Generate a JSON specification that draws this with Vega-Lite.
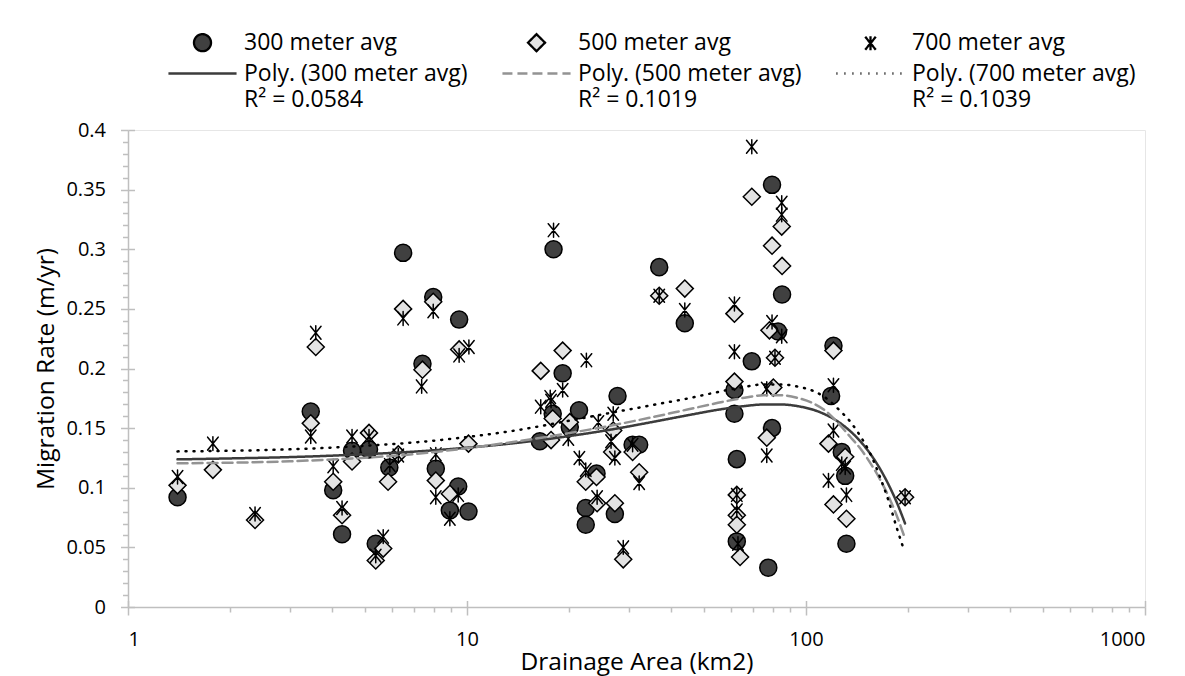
{
  "$schema": "https://vega.github.io/schema/vega-lite/v6.json",
  "width": 1017,
  "height": 477,
  "autosize": {"type": "none"},
  "padding": {"left": 128, "top": 130, "right": 40, "bottom": 69},
  "background": "white",
  "config": {
    "font": "Open Sans",
    "view": {"stroke": "#e6e6e6", "strokeWidth": 1},
    "style": {"guide-label": {"lineHeight": 26}},
    "axis": {
      "grid": false,
      "domainColor": "#bfbfbf",
      "domainWidth": 1.5,
      "tickColor": "#bfbfbf",
      "tickWidth": 1.5,
      "labelColor": "#000000",
      "titleColor": "#000000",
      "labelFont": "Open Sans",
      "titleFont": "Open Sans",
      "labelFontSize": 20,
      "titleFontSize": 24.5,
      "titleFontWeight": "normal"
    },
    "legend": {
      "labelFont": "Open Sans",
      "labelFontSize": 23,
      "labelColor": "#000000",
      "labelLimit": 600,
      "symbolSize": 290,
      "symbolStrokeWidth": 2.3,
      "padding": 0
    }
  },
  "datasets": {
    "points": [
      {"series": "300 meter avg", "area": 1.4, "rate": 0.092},
      {"series": "300 meter avg", "area": 3.46, "rate": 0.164},
      {"series": "300 meter avg", "area": 4.03, "rate": 0.098},
      {"series": "300 meter avg", "area": 4.28, "rate": 0.061},
      {"series": "300 meter avg", "area": 4.58, "rate": 0.131},
      {"series": "300 meter avg", "area": 5.14, "rate": 0.132},
      {"series": "300 meter avg", "area": 5.38, "rate": 0.053},
      {"series": "300 meter avg", "area": 5.9, "rate": 0.117},
      {"series": "300 meter avg", "area": 6.48, "rate": 0.297},
      {"series": "300 meter avg", "area": 7.39, "rate": 0.204},
      {"series": "300 meter avg", "area": 7.95, "rate": 0.26},
      {"series": "300 meter avg", "area": 8.09, "rate": 0.116},
      {"series": "300 meter avg", "area": 8.9, "rate": 0.081},
      {"series": "300 meter avg", "area": 9.42, "rate": 0.101},
      {"series": "300 meter avg", "area": 9.48, "rate": 0.241},
      {"series": "300 meter avg", "area": 10.1, "rate": 0.08},
      {"series": "300 meter avg", "area": 16.4, "rate": 0.139},
      {"series": "300 meter avg", "area": 17.9, "rate": 0.162},
      {"series": "300 meter avg", "area": 18.0, "rate": 0.3},
      {"series": "300 meter avg", "area": 19.15, "rate": 0.196},
      {"series": "300 meter avg", "area": 20.1, "rate": 0.151},
      {"series": "300 meter avg", "area": 21.4, "rate": 0.165},
      {"series": "300 meter avg", "area": 22.4, "rate": 0.083},
      {"series": "300 meter avg", "area": 22.4, "rate": 0.069},
      {"series": "300 meter avg", "area": 24.1, "rate": 0.112},
      {"series": "300 meter avg", "area": 27.3, "rate": 0.078},
      {"series": "300 meter avg", "area": 27.8, "rate": 0.177},
      {"series": "300 meter avg", "area": 30.8, "rate": 0.136},
      {"series": "300 meter avg", "area": 32.2, "rate": 0.136},
      {"series": "300 meter avg", "area": 36.9, "rate": 0.285},
      {"series": "300 meter avg", "area": 43.9, "rate": 0.238},
      {"series": "300 meter avg", "area": 61.5, "rate": 0.182},
      {"series": "300 meter avg", "area": 61.5, "rate": 0.162},
      {"series": "300 meter avg", "area": 62.5, "rate": 0.124},
      {"series": "300 meter avg", "area": 62.5, "rate": 0.055},
      {"series": "300 meter avg", "area": 69.2, "rate": 0.206},
      {"series": "300 meter avg", "area": 77.4, "rate": 0.033},
      {"series": "300 meter avg", "area": 79.4, "rate": 0.354},
      {"series": "300 meter avg", "area": 79.4, "rate": 0.15},
      {"series": "300 meter avg", "area": 82.7, "rate": 0.231},
      {"series": "300 meter avg", "area": 85.0, "rate": 0.262},
      {"series": "300 meter avg", "area": 118.6, "rate": 0.177},
      {"series": "300 meter avg", "area": 120.5, "rate": 0.219},
      {"series": "300 meter avg", "area": 127.5, "rate": 0.13},
      {"series": "300 meter avg", "area": 130.5, "rate": 0.11},
      {"series": "300 meter avg", "area": 131.6, "rate": 0.053},
      {"series": "500 meter avg", "area": 1.4, "rate": 0.102},
      {"series": "500 meter avg", "area": 1.78, "rate": 0.115},
      {"series": "500 meter avg", "area": 2.37, "rate": 0.073},
      {"series": "500 meter avg", "area": 3.46, "rate": 0.154},
      {"series": "500 meter avg", "area": 3.58, "rate": 0.218},
      {"series": "500 meter avg", "area": 4.03, "rate": 0.105},
      {"series": "500 meter avg", "area": 4.28, "rate": 0.077},
      {"series": "500 meter avg", "area": 4.58, "rate": 0.122},
      {"series": "500 meter avg", "area": 5.14, "rate": 0.146},
      {"series": "500 meter avg", "area": 5.38, "rate": 0.039},
      {"series": "500 meter avg", "area": 5.66, "rate": 0.049},
      {"series": "500 meter avg", "area": 5.85, "rate": 0.105},
      {"series": "500 meter avg", "area": 6.27, "rate": 0.128},
      {"series": "500 meter avg", "area": 6.48, "rate": 0.25},
      {"series": "500 meter avg", "area": 7.39, "rate": 0.199},
      {"series": "500 meter avg", "area": 7.95, "rate": 0.256},
      {"series": "500 meter avg", "area": 8.09, "rate": 0.106},
      {"series": "500 meter avg", "area": 8.9, "rate": 0.095},
      {"series": "500 meter avg", "area": 9.48, "rate": 0.216},
      {"series": "500 meter avg", "area": 10.1, "rate": 0.137},
      {"series": "500 meter avg", "area": 16.5, "rate": 0.198},
      {"series": "500 meter avg", "area": 17.7, "rate": 0.14},
      {"series": "500 meter avg", "area": 17.9, "rate": 0.158},
      {"series": "500 meter avg", "area": 19.15, "rate": 0.215},
      {"series": "500 meter avg", "area": 20.1, "rate": 0.155},
      {"series": "500 meter avg", "area": 22.4, "rate": 0.105},
      {"series": "500 meter avg", "area": 24.1, "rate": 0.109},
      {"series": "500 meter avg", "area": 24.2, "rate": 0.087},
      {"series": "500 meter avg", "area": 27.0, "rate": 0.148},
      {"series": "500 meter avg", "area": 26.8, "rate": 0.13},
      {"series": "500 meter avg", "area": 27.3, "rate": 0.087},
      {"series": "500 meter avg", "area": 28.9, "rate": 0.04},
      {"series": "500 meter avg", "area": 30.8, "rate": 0.13},
      {"series": "500 meter avg", "area": 32.2, "rate": 0.113},
      {"series": "500 meter avg", "area": 36.9, "rate": 0.261},
      {"series": "500 meter avg", "area": 43.9, "rate": 0.267},
      {"series": "500 meter avg", "area": 61.5, "rate": 0.246},
      {"series": "500 meter avg", "area": 61.5, "rate": 0.189},
      {"series": "500 meter avg", "area": 62.5, "rate": 0.094},
      {"series": "500 meter avg", "area": 62.5, "rate": 0.077},
      {"series": "500 meter avg", "area": 62.5, "rate": 0.069},
      {"series": "500 meter avg", "area": 63.9, "rate": 0.042},
      {"series": "500 meter avg", "area": 69.2, "rate": 0.344},
      {"series": "500 meter avg", "area": 76.6, "rate": 0.142},
      {"series": "500 meter avg", "area": 78.0, "rate": 0.232},
      {"series": "500 meter avg", "area": 79.4, "rate": 0.303},
      {"series": "500 meter avg", "area": 80.1, "rate": 0.184},
      {"series": "500 meter avg", "area": 81.0, "rate": 0.209},
      {"series": "500 meter avg", "area": 84.8, "rate": 0.319},
      {"series": "500 meter avg", "area": 85.0, "rate": 0.286},
      {"series": "500 meter avg", "area": 116.5, "rate": 0.137},
      {"series": "500 meter avg", "area": 120.5, "rate": 0.215},
      {"series": "500 meter avg", "area": 120.5, "rate": 0.086},
      {"series": "500 meter avg", "area": 130.5, "rate": 0.126},
      {"series": "500 meter avg", "area": 131.6, "rate": 0.074},
      {"series": "500 meter avg", "area": 196, "rate": 0.092},
      {"series": "700 meter avg", "area": 1.4, "rate": 0.109},
      {"series": "700 meter avg", "area": 1.78, "rate": 0.137},
      {"series": "700 meter avg", "area": 2.37, "rate": 0.078},
      {"series": "700 meter avg", "area": 3.46, "rate": 0.143},
      {"series": "700 meter avg", "area": 3.58, "rate": 0.23},
      {"series": "700 meter avg", "area": 4.03, "rate": 0.118},
      {"series": "700 meter avg", "area": 4.28, "rate": 0.083},
      {"series": "700 meter avg", "area": 4.58, "rate": 0.143},
      {"series": "700 meter avg", "area": 5.14, "rate": 0.143},
      {"series": "700 meter avg", "area": 5.38, "rate": 0.043},
      {"series": "700 meter avg", "area": 5.66, "rate": 0.059},
      {"series": "700 meter avg", "area": 5.92, "rate": 0.119},
      {"series": "700 meter avg", "area": 6.27, "rate": 0.127},
      {"series": "700 meter avg", "area": 6.48, "rate": 0.242},
      {"series": "700 meter avg", "area": 7.35, "rate": 0.185},
      {"series": "700 meter avg", "area": 7.95, "rate": 0.248},
      {"series": "700 meter avg", "area": 8.09, "rate": 0.128},
      {"series": "700 meter avg", "area": 8.09, "rate": 0.092},
      {"series": "700 meter avg", "area": 8.9, "rate": 0.074},
      {"series": "700 meter avg", "area": 9.42, "rate": 0.094},
      {"series": "700 meter avg", "area": 9.48, "rate": 0.211},
      {"series": "700 meter avg", "area": 10.13, "rate": 0.218},
      {"series": "700 meter avg", "area": 16.5, "rate": 0.168},
      {"series": "700 meter avg", "area": 17.6, "rate": 0.176},
      {"series": "700 meter avg", "area": 17.7, "rate": 0.173},
      {"series": "700 meter avg", "area": 18.0, "rate": 0.316},
      {"series": "700 meter avg", "area": 19.15, "rate": 0.182},
      {"series": "700 meter avg", "area": 19.9, "rate": 0.141},
      {"series": "700 meter avg", "area": 21.45, "rate": 0.125},
      {"series": "700 meter avg", "area": 22.4, "rate": 0.115},
      {"series": "700 meter avg", "area": 22.5, "rate": 0.207},
      {"series": "700 meter avg", "area": 24.2, "rate": 0.092},
      {"series": "700 meter avg", "area": 24.4, "rate": 0.155},
      {"series": "700 meter avg", "area": 27.0, "rate": 0.162},
      {"series": "700 meter avg", "area": 26.6, "rate": 0.139},
      {"series": "700 meter avg", "area": 27.3, "rate": 0.125},
      {"series": "700 meter avg", "area": 28.9, "rate": 0.05},
      {"series": "700 meter avg", "area": 30.8, "rate": 0.136},
      {"series": "700 meter avg", "area": 32.2, "rate": 0.104},
      {"series": "700 meter avg", "area": 36.9, "rate": 0.261},
      {"series": "700 meter avg", "area": 43.9, "rate": 0.249},
      {"series": "700 meter avg", "area": 61.5, "rate": 0.254},
      {"series": "700 meter avg", "area": 61.5, "rate": 0.214},
      {"series": "700 meter avg", "area": 62.5, "rate": 0.094},
      {"series": "700 meter avg", "area": 62.5, "rate": 0.081},
      {"series": "700 meter avg", "area": 63.0, "rate": 0.053},
      {"series": "700 meter avg", "area": 69.2, "rate": 0.386},
      {"series": "700 meter avg", "area": 76.6, "rate": 0.183},
      {"series": "700 meter avg", "area": 76.6, "rate": 0.127},
      {"series": "700 meter avg", "area": 79.4, "rate": 0.239},
      {"series": "700 meter avg", "area": 81.0, "rate": 0.209},
      {"series": "700 meter avg", "area": 84.8, "rate": 0.339},
      {"series": "700 meter avg", "area": 84.8, "rate": 0.329},
      {"series": "700 meter avg", "area": 84.8, "rate": 0.227},
      {"series": "700 meter avg", "area": 116.5, "rate": 0.106},
      {"series": "700 meter avg", "area": 120.5, "rate": 0.186},
      {"series": "700 meter avg", "area": 120.5, "rate": 0.148},
      {"series": "700 meter avg", "area": 127.5, "rate": 0.12},
      {"series": "700 meter avg", "area": 130.5, "rate": 0.117},
      {"series": "700 meter avg", "area": 131.6, "rate": 0.094},
      {"series": "700 meter avg", "area": 196, "rate": 0.092}
    ],
    "trend": [
      {"series": "Poly. (300 meter avg)", "area": 1.4, "rate": 0.1238},
      {"series": "Poly. (300 meter avg)", "area": 2, "rate": 0.1246},
      {"series": "Poly. (300 meter avg)", "area": 3, "rate": 0.1257},
      {"series": "Poly. (300 meter avg)", "area": 5, "rate": 0.1281},
      {"series": "Poly. (300 meter avg)", "area": 7, "rate": 0.1303},
      {"series": "Poly. (300 meter avg)", "area": 10, "rate": 0.1336},
      {"series": "Poly. (300 meter avg)", "area": 14, "rate": 0.1376},
      {"series": "Poly. (300 meter avg)", "area": 20, "rate": 0.1433},
      {"series": "Poly. (300 meter avg)", "area": 27, "rate": 0.1491},
      {"series": "Poly. (300 meter avg)", "area": 35, "rate": 0.155},
      {"series": "Poly. (300 meter avg)", "area": 45, "rate": 0.1609},
      {"series": "Poly. (300 meter avg)", "area": 55, "rate": 0.1654},
      {"series": "Poly. (300 meter avg)", "area": 65, "rate": 0.1683},
      {"series": "Poly. (300 meter avg)", "area": 75, "rate": 0.1698},
      {"series": "Poly. (300 meter avg)", "area": 85, "rate": 0.1698},
      {"series": "Poly. (300 meter avg)", "area": 95, "rate": 0.1683},
      {"series": "Poly. (300 meter avg)", "area": 105, "rate": 0.1654},
      {"series": "Poly. (300 meter avg)", "area": 115, "rate": 0.1609},
      {"series": "Poly. (300 meter avg)", "area": 125, "rate": 0.155},
      {"series": "Poly. (300 meter avg)", "area": 135, "rate": 0.1475},
      {"series": "Poly. (300 meter avg)", "area": 145, "rate": 0.1386},
      {"series": "Poly. (300 meter avg)", "area": 155, "rate": 0.1282},
      {"series": "Poly. (300 meter avg)", "area": 165, "rate": 0.1163},
      {"series": "Poly. (300 meter avg)", "area": 175, "rate": 0.1029},
      {"series": "Poly. (300 meter avg)", "area": 185, "rate": 0.0881},
      {"series": "Poly. (300 meter avg)", "area": 196, "rate": 0.07},
      {"series": "Poly. (500 meter avg)", "area": 1.4, "rate": 0.1205},
      {"series": "Poly. (500 meter avg)", "area": 2, "rate": 0.121},
      {"series": "Poly. (500 meter avg)", "area": 3, "rate": 0.1222},
      {"series": "Poly. (500 meter avg)", "area": 5, "rate": 0.1252},
      {"series": "Poly. (500 meter avg)", "area": 7, "rate": 0.1282},
      {"series": "Poly. (500 meter avg)", "area": 10, "rate": 0.1332},
      {"series": "Poly. (500 meter avg)", "area": 14, "rate": 0.1388},
      {"series": "Poly. (500 meter avg)", "area": 20, "rate": 0.1458},
      {"series": "Poly. (500 meter avg)", "area": 27, "rate": 0.1525},
      {"series": "Poly. (500 meter avg)", "area": 35, "rate": 0.159},
      {"series": "Poly. (500 meter avg)", "area": 45, "rate": 0.1658},
      {"series": "Poly. (500 meter avg)", "area": 55, "rate": 0.1712},
      {"series": "Poly. (500 meter avg)", "area": 65, "rate": 0.1752},
      {"series": "Poly. (500 meter avg)", "area": 75, "rate": 0.1775},
      {"series": "Poly. (500 meter avg)", "area": 85, "rate": 0.1775},
      {"series": "Poly. (500 meter avg)", "area": 95, "rate": 0.1752},
      {"series": "Poly. (500 meter avg)", "area": 105, "rate": 0.1708},
      {"series": "Poly. (500 meter avg)", "area": 115, "rate": 0.1638},
      {"series": "Poly. (500 meter avg)", "area": 125, "rate": 0.1535},
      {"series": "Poly. (500 meter avg)", "area": 135, "rate": 0.1428},
      {"series": "Poly. (500 meter avg)", "area": 145, "rate": 0.1325},
      {"series": "Poly. (500 meter avg)", "area": 155, "rate": 0.1205},
      {"series": "Poly. (500 meter avg)", "area": 165, "rate": 0.1075},
      {"series": "Poly. (500 meter avg)", "area": 175, "rate": 0.093},
      {"series": "Poly. (500 meter avg)", "area": 185, "rate": 0.077},
      {"series": "Poly. (500 meter avg)", "area": 195, "rate": 0.059},
      {"series": "Poly. (700 meter avg)", "area": 1.4, "rate": 0.1305},
      {"series": "Poly. (700 meter avg)", "area": 2, "rate": 0.131},
      {"series": "Poly. (700 meter avg)", "area": 3, "rate": 0.1322},
      {"series": "Poly. (700 meter avg)", "area": 5, "rate": 0.1352},
      {"series": "Poly. (700 meter avg)", "area": 7, "rate": 0.138},
      {"series": "Poly. (700 meter avg)", "area": 10, "rate": 0.1425},
      {"series": "Poly. (700 meter avg)", "area": 14, "rate": 0.1482},
      {"series": "Poly. (700 meter avg)", "area": 20, "rate": 0.1562},
      {"series": "Poly. (700 meter avg)", "area": 27, "rate": 0.1632},
      {"series": "Poly. (700 meter avg)", "area": 35, "rate": 0.1692},
      {"series": "Poly. (700 meter avg)", "area": 45, "rate": 0.175},
      {"series": "Poly. (700 meter avg)", "area": 55, "rate": 0.1803},
      {"series": "Poly. (700 meter avg)", "area": 65, "rate": 0.1843},
      {"series": "Poly. (700 meter avg)", "area": 75, "rate": 0.1866},
      {"series": "Poly. (700 meter avg)", "area": 85, "rate": 0.1866},
      {"series": "Poly. (700 meter avg)", "area": 95, "rate": 0.1847},
      {"series": "Poly. (700 meter avg)", "area": 105, "rate": 0.1812},
      {"series": "Poly. (700 meter avg)", "area": 115, "rate": 0.1748},
      {"series": "Poly. (700 meter avg)", "area": 125, "rate": 0.1655},
      {"series": "Poly. (700 meter avg)", "area": 135, "rate": 0.1555},
      {"series": "Poly. (700 meter avg)", "area": 145, "rate": 0.1428},
      {"series": "Poly. (700 meter avg)", "area": 155, "rate": 0.1282},
      {"series": "Poly. (700 meter avg)", "area": 165, "rate": 0.1095},
      {"series": "Poly. (700 meter avg)", "area": 175, "rate": 0.0895},
      {"series": "Poly. (700 meter avg)", "area": 185, "rate": 0.0668},
      {"series": "Poly. (700 meter avg)", "area": 195, "rate": 0.047}
    ]
  },
  "layer": [
    {
      "data": {"name": "points"},
      "transform": [{"filter": "datum.series !== '700 meter avg'"}],
      "mark": {"type": "point", "opacity": 1, "size": 290, "strokeCap": "round"},
      "encoding": {
        "x": {
          "field": "area", "type": "quantitative",
          "scale": {"type": "log", "domain": [1, 1000]},
          "axis": {"orient": "bottom", "values": [1, 10, 100, 1000], "tickSize": -6.5, "labels": false, "domain": false, "title": null}
        },
        "y": {
          "field": "rate", "type": "quantitative",
          "scale": {"domain": [0, 0.4], "nice": false},
          "axis": {"orient": "left", "values": [0, 0.05, 0.1, 0.15, 0.2, 0.25, 0.3, 0.35, 0.4], "tickSize": -6.5, "labels": false, "domain": false, "title": null}
        },
        "strokeWidth": {"value": 1.5},
        "shape": {
          "field": "series", "type": "nominal",
          "scale": {"domain": ["300 meter avg", "500 meter avg", "700 meter avg", "Poly. (300 meter avg)", "Poly. (500 meter avg)", "Poly. (700 meter avg)"],
                    "range": ["circle", "diamond", "M-0.62,-0.76L0.62,0.76M0.62,-0.76L-0.62,0.76M0,-0.82L0,0.82", "M-4,0L4,0", "M-4,0L4,0", "M-4,0L4,0"]},
          "legend": {
            "title": null,
            "orient": "none",
            "legendX": 63,
            "legendY": -99,
            "direction": "horizontal",
            "columns": 3,
            "columnPadding": 29,
            "rowPadding": 6,
            "labelOffset": 30,
            "labelBaseline": "middle",
            "labelExpr": "datum.value === 'Poly. (300 meter avg)' ? [datum.label, 'R² = 0.0584'] : datum.value === 'Poly. (500 meter avg)' ? [datum.label, 'R² = 0.1019'] : datum.value === 'Poly. (700 meter avg)' ? [datum.label, 'R² = 0.1039'] : datum.label"
          }
        },
        "fill": {
          "field": "series", "type": "nominal",
          "scale": {"domain": ["300 meter avg", "500 meter avg", "700 meter avg", "Poly. (300 meter avg)", "Poly. (500 meter avg)", "Poly. (700 meter avg)"],
                    "range": ["#404040", "#e3e3e3", "transparent", "transparent", "transparent", "transparent"]},
          "legend": {"title": null}
        },
        "stroke": {
          "field": "series", "type": "nominal",
          "scale": {"domain": ["300 meter avg", "500 meter avg", "700 meter avg", "Poly. (300 meter avg)", "Poly. (500 meter avg)", "Poly. (700 meter avg)"],
                    "range": ["#000000", "#000000", "#000000", "#3c3c3c", "#939393", "#000000"]},
          "legend": {"title": null}
        }
      }
    },
    {
      "data": {"name": "points"},
      "transform": [{"filter": "datum.series === '700 meter avg'"}],
      "mark": {"type": "point", "opacity": 1, "size": 290, "strokeCap": "round"},
      "encoding": {
        "x": {
          "field": "area", "type": "quantitative",
          "scale": {"type": "log", "domain": [1, 1000]},
          "axis": {"orient": "bottom", "values": [1, 10, 100, 1000], "format": "d", "tickSize": 8, "labelPadding": 14, "title": "Drainage Area (km2)", "titlePadding": 1}
        },
        "y": {
          "field": "rate", "type": "quantitative",
          "scale": {"domain": [0, 0.4], "nice": false},
          "axis": {"orient": "left", "values": [0, 0.05, 0.1, 0.15, 0.2, 0.25, 0.3, 0.35, 0.4], "format": "~g", "tickSize": 7.5, "labelPadding": 15, "title": "Migration Rate (m/yr)", "titlePadding": 7}
        },
        "strokeWidth": {"value": 1.5},
        "fill": {"field": "series", "type": "nominal", "legend": {"title": null}},
        "stroke": {"field": "series", "type": "nominal", "legend": {"title": null}},
        "shape": {"field": "series", "type": "nominal", "legend": {"title": null}}
      }
    },
    {
      "data": {"name": "trend"},
      "mark": {"type": "line", "strokeWidth": 2.5, "strokeCap": "round", "interpolate": "monotone"},
      "encoding": {
        "x": {
          "field": "area", "type": "quantitative",
          "scale": {"type": "log", "domain": [1, 1000]},
          "axis": {"orient": "bottom", "values": [2, 3, 4, 5, 6, 7, 8, 9, 20, 30, 40, 50, 60, 70, 80, 90, 200, 300, 400, 500, 600, 700, 800, 900], "tickSize": 5, "labels": false, "domain": false, "title": null}
        },
        "y": {
          "field": "rate", "type": "quantitative",
          "scale": {"domain": [0, 0.4], "nice": false},
          "axis": {"orient": "left", "values": [0.01, 0.02, 0.03, 0.04, 0.06, 0.07, 0.08, 0.09, 0.11, 0.12, 0.13, 0.14, 0.16, 0.17, 0.18, 0.19, 0.21, 0.22, 0.23, 0.24, 0.26, 0.27, 0.28, 0.29, 0.31, 0.32, 0.33, 0.34, 0.36, 0.37, 0.38, 0.39], "tickSize": 5.5, "labels": false, "domain": false, "title": null}
        },
        "stroke": {"field": "series", "type": "nominal", "legend": {"title": null}},
        "strokeDash": {
          "field": "series", "type": "nominal",
          "scale": {"domain": ["300 meter avg", "500 meter avg", "700 meter avg", "Poly. (300 meter avg)", "Poly. (500 meter avg)", "Poly. (700 meter avg)"],
                    "range": [[1, 0], [1, 0], [1, 0], [1, 0], [10, 5], [1, 7]]},
          "legend": {"title": null}
        }
      }
    }
  ],
  "resolve": {"axis": {"x": "independent", "y": "independent"}}
}
